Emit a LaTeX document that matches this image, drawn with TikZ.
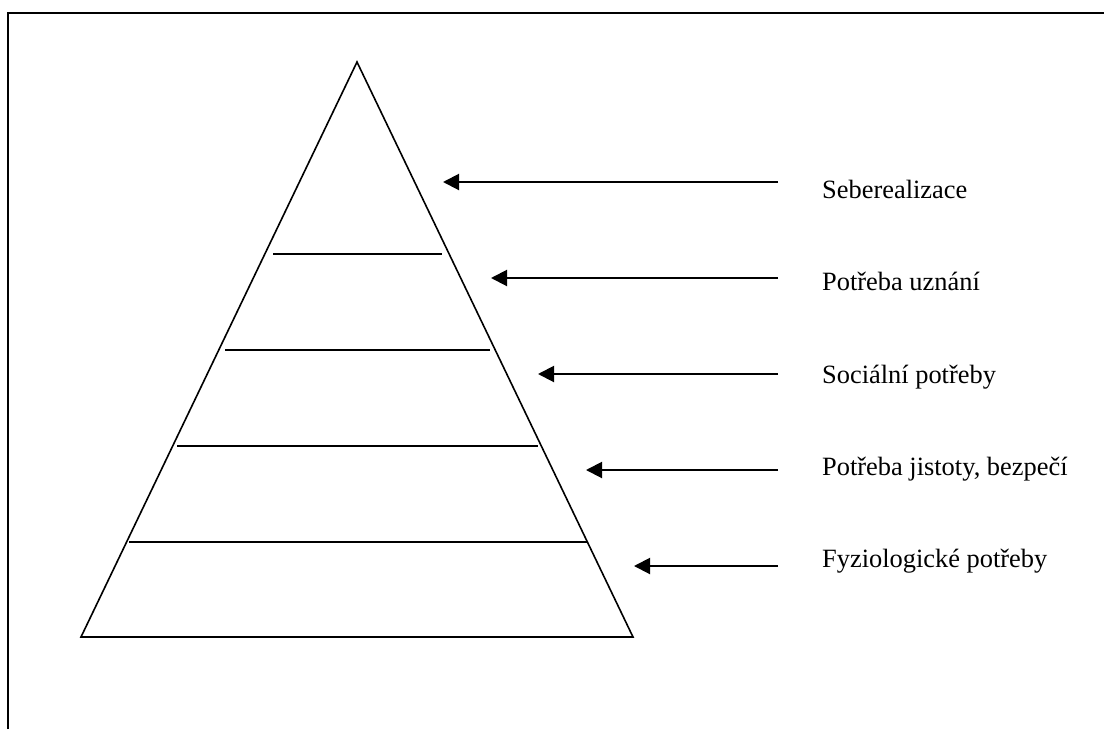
\documentclass[tikz,border=0pt]{standalone}
\usepackage{fontspec}
\setmainfont{Liberation Serif}
\usetikzlibrary{arrows.meta}
\begin{document}
\begin{tikzpicture}[x=1pt,y=-1pt,
  frame/.style={line width=2pt},
  edge/.style={line width=1.6pt, line join=miter},
  level/.style={line width=1.6pt},
  pointer/.style={line width=2pt, -{Triangle[length=16pt,width=16pt]}},
  label/.style={anchor=base west, inner sep=0pt, font=\fontsize{26.4}{30}\selectfont}]
  \useasboundingbox (0,0) rectangle (1104,729);

  % open frame: top and left edges only
  \coordinate (fl) at (8.3,729);
  \coordinate (ftl) at (8.3,13);
  \coordinate (ftr) at (1104,13);
  \draw[frame] (fl) -- (ftl) -- (ftr);

  % pyramid outline
  \coordinate (apex) at (357,62);
  \coordinate (bl) at (81,637);
  \coordinate (br) at (633,637);
  \draw[edge] (apex) -- (bl) -- (br) -- cycle;

  % level dividers
  \coordinate (d1l) at (273,254); \coordinate (d1r) at (442,254);
  \coordinate (d2l) at (225,350); \coordinate (d2r) at (490,350);
  \coordinate (d3l) at (177,446); \coordinate (d3r) at (538,446);
  \coordinate (d4l) at (129,542); \coordinate (d4r) at (587,542);
  \draw[level] (d1l) -- (d1r);
  \draw[level] (d2l) -- (d2r);
  \draw[level] (d3l) -- (d3r);
  \draw[level] (d4l) -- (d4r);

  % labels
  \node[label] (l1) at (822,198) {Seberealizace};
  \node[label] (l2) at (822,290) {Potřeba uznání};
  \node[label] (l3) at (822,383) {Sociální potřeby};
  \node[label] (l4) at (822,475) {Potřeba jistoty, bezpečí};
  \node[label] (l5) at (822,567) {Fyziologické potřeby};

  % arrows pointing at the levels
  \coordinate (t1) at (778,182); \coordinate (h1) at (443,182);
  \coordinate (t2) at (778,278); \coordinate (h2) at (491,278);
  \coordinate (t3) at (778,374); \coordinate (h3) at (538,374);
  \coordinate (t4) at (778,470); \coordinate (h4) at (586,470);
  \coordinate (t5) at (778,566); \coordinate (h5) at (634,566);
  \draw[pointer] (t1) -- (h1);
  \draw[pointer] (t2) -- (h2);
  \draw[pointer] (t3) -- (h3);
  \draw[pointer] (t4) -- (h4);
  \draw[pointer] (t5) -- (h5);
\end{tikzpicture}
\end{document}
